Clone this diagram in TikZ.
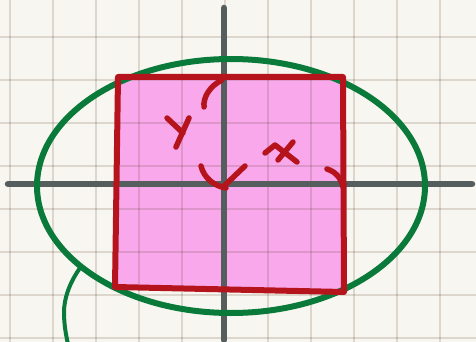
\documentclass[tikz,border=0pt]{standalone}
\usetikzlibrary{positioning}
\definecolor{paper}{HTML}{F8F6F0}
\definecolor{axgray}{HTML}{555D5D}
\definecolor{inkred}{HTML}{B5141C}
\definecolor{inkgreen}{HTML}{0A7A3A}
\definecolor{rosa}{HTML}{F9A8EC}
\begin{document}
\begin{tikzpicture}[x=1pt,y=-1pt,line join=round,line cap=round,
    gridline/.style={black!60!brown,opacity=0.16,line width=1.3pt},
    axis/.style={axgray,line width=6.5pt},
    ink/.style={inkred,line width=5.5pt}]
    \def\W{476} \def\H{342} \def\cx{231} \def\cy{186}
    \useasboundingbox (0,0) rectangle (\W,\H);
    \fill[paper] (0,0) rectangle (\W,\H);
    % square region
    \coordinate (tl) at (118,77); \coordinate (tr) at (343,77);
    \coordinate (br) at (344,292); \coordinate (bl) at (115,287);
    \fill[rosa] (tl)--(tr)--(br)--(bl)--cycle;
    % paper grid
    \foreach \x in {10,53,...,476} \draw[gridline] (\x,0)--(\x,\H);
    \foreach \y in {37,80,...,342} \draw[gridline] (0,\y)--(\W,\y);
    % axes
    \draw[axis] (8,184)--(472,184);
    \draw[axis] (224,8)--(224,340);
    % disc
    \draw[inkgreen,line width=6pt] (\cx,\cy) ellipse [x radius=194, y radius=127];
    \draw[inkgreen,line width=4pt] (80,268) .. controls (70,282) and (64,298) .. (64,312)
        .. controls (64,325) and (66,335) .. (68,344);
    \draw[inkred,line width=6pt] (tl)--(tr)--(br)--(bl)--cycle;
    % handwritten marks
    \draw[ink] (222,80) .. controls (210,86) and (203,97) .. (204,107);
    \draw[ink] (167,118)--(183,133) (189,118)--(176,147);
    \draw[ink] (201,166) .. controls (204,178) and (214,186) .. (226,188);
    \draw[ink] (245,166)--(224,186);
    \draw[ink] (265,153)--(275,145)--(297,162) (293,142)--(278,160);
    \draw[ink] (327,169) .. controls (336,172) and (341,178) .. (343,187);
\end{tikzpicture}
\end{document}
